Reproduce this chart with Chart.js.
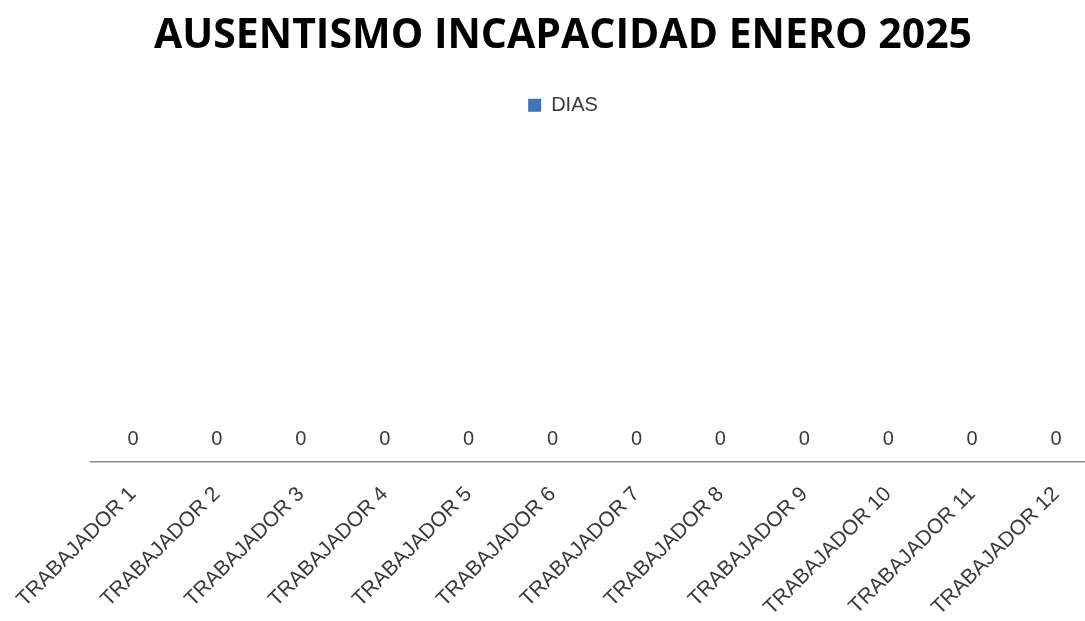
<!DOCTYPE html>
<html>
<head>
<meta charset="utf-8">
<script src="https://cdn.jsdelivr.net/npm/chart.js@4"></script>
<style>
  body { margin: 0; background: #fff; overflow: hidden; }
  #wrap { width: 1100px; height: 621px; position: relative; }
</style>
</head>
<body>
<div id="wrap"><canvas id="myChart"></canvas></div>
<script>
'use strict';

// chart data
let workerNames = ['TRABAJADOR 1','TRABAJADOR 2','TRABAJADOR 3','TRABAJADOR 4','TRABAJADOR 5','TRABAJADOR 6','TRABAJADOR 7','TRABAJADOR 8','TRABAJADOR 9','TRABAJADOR 10','TRABAJADOR 11','TRABAJADOR 12'];
let diasValues = [0,0,0,0,0,0,0,0,0,0,0,0];
let seriesName = 'DIAS';
let chartTitle = 'AUSENTISMO INCAPACIDAD ENERO 2025';

const textColor = '#3a3a3a';
const textFont = 'Liberation Sans';

// draws the value above each bar, since datalabels plugin is not available
const valueLabels = {
  id: 'valueLabels',
  afterDatasetsDraw(chart) {
    const ctx = chart.ctx;
    ctx.save();
    ctx.font = '20px "' + textFont + '"';
    ctx.fillStyle = textColor;
    ctx.textAlign = 'center';
    ctx.textBaseline = 'alphabetic';
    chart.data.datasets.forEach((ds, i) => {
      chart.getDatasetMeta(i).data.forEach((bar, j) => {
        ctx.fillText(ds.data[j], bar.x, bar.y - 17);
      });
    });
    ctx.restore();
  }
};

const data = {
  labels: workerNames,
  datasets: [{
    label: seriesName,
    data: diasValues,
    backgroundColor: '#3f73b3',
    borderWidth: 0
  }]
};

const config = {
  type: 'bar',
  data: data,
  plugins: [valueLabels],
  options: {
    responsive: true,
    maintainAspectRatio: false,
    animation: false,
    layout: {
      padding: { left: 26, right: 0, top: 8, bottom: 0 }
    },
    plugins: {
      title: {
        display: true,
        text: chartTitle,
        color: '#000',
        font: { family: 'Open Sans', size: 41, weight: 'bold' },
        padding: { top: 4, bottom: 24 }
      },
      legend: {
        labels: {
          color: textColor,
          boxWidth: 13,
          boxHeight: 13,
          font: { family: textFont, size: 20 }
        }
      },
      tooltip: { enabled: false }
    },
    scales: {
      x: {
        grid: { display: false },
        border: { display: true, color: '#8a8a8a', width: 1.5 },
        afterFit(scale) {
          // keep the plot area where it is in the original picture
          scale.paddingLeft = 91;
          scale.paddingRight = 2;
          scale.height = 159;
        },
        ticks: {
          autoSkip: false,
          maxRotation: 45,
          minRotation: 45,
          color: textColor,
          padding: 12,
          font: { family: textFont, size: 21 }
        }
      },
      y: {
        display: false,
        min: 0,
        max: 1
      }
    }
  }
};

const myChart = new Chart(document.getElementById('myChart'), config);
</script>
</body>
</html>
